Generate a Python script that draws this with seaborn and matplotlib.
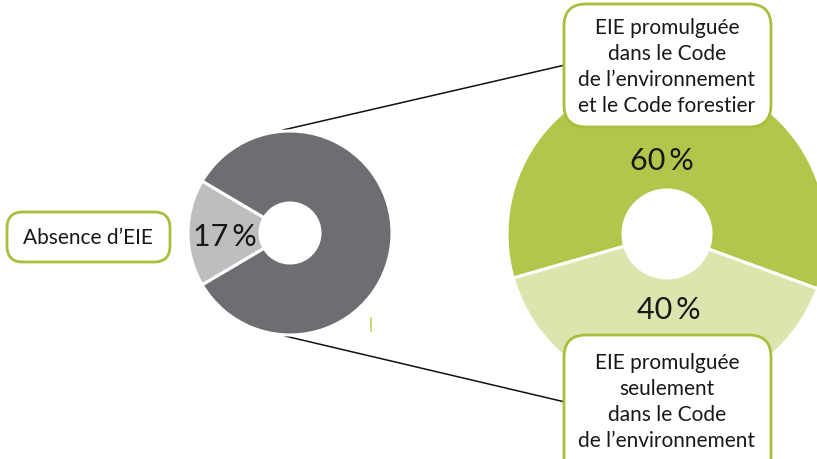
import matplotlib
matplotlib.use("Agg")
import matplotlib.pyplot as plt
from matplotlib.patches import FancyBboxPatch
import seaborn as sns

# ---- data ----
left_categories = ["Absence d\u2019EIE", "EIE promulgu\u00e9e"]
left_values = [17, 83]
right_categories = ["EIE promulgu\u00e9e dans le Code de l\u2019environnement et le Code forestier",
                    "EIE promulgu\u00e9e seulement dans le Code de l\u2019environnement"]
right_values = [60, 40]
label_absence = "Absence d\u2019EIE"
label_top = "EIE promulgu\u00e9e\ndans le Code\nde l\u2019environnement\net le Code forestier"
label_bottom = "EIE promulgu\u00e9e\nseulement\ndans le Code\nde l\u2019environnement"

# ---- style ----
sns.set_theme(style="white")
plt.rcParams["font.family"] = ["Lato", "DejaVu Sans"]

W, H = 817, 460
fig = plt.figure(figsize=(W / 100, H / 100), dpi=100)
ax = fig.add_axes([0, 0, 1, 1])

def Y(y):
    return H - y

TXT = "#1a1718"
GREEN_EDGE = "#a7bf3b"
left_colors = ["#bcbec0", "#6d6e71"]
right_colors = ["#b3c54a", "#dbe5ad"]

# connector lines (behind)
ax.plot([283, 565], [Y(131), Y(66)], color="#111111", lw=1.1, zorder=1)
ax.plot([285, 565], [Y(337), Y(403)], color="#111111", lw=1.1, zorder=1)

# left donut
lc = (290, Y(234)); lR = 102; lr = 30
start_left = 180 - left_values[0] / sum(left_values) * 360 / 2
ax.pie(left_values, colors=left_colors, center=lc, radius=lR,
       startangle=start_left, counterclock=True,
       wedgeprops=dict(width=lR - lr, edgecolor="white", linewidth=2.2),
       frame=True)
# right donut
rc = (667, Y(235)); rR = 160; rr = 44
ax.pie(right_values, colors=right_colors, center=rc, radius=rR,
       startangle=-20, counterclock=True,
       wedgeprops=dict(width=rR - rr, edgecolor="white", linewidth=2.2),
       frame=True)
ax.set_xlim(0, W)
ax.set_ylim(0, H)
ax.set_aspect("equal")
ax.axis("off")

# percentage labels
PCT = dict(ha="center", va="center", fontsize=22, color=TXT, zorder=5)
ax.text(225, Y(237), f"{left_values[0]}\u2009%", **PCT)
ax.text(662, Y(161), f"{right_values[0]}\u2009%", **PCT)
ax.text(669, Y(310), f"{right_values[1]}\u2009%", **PCT)

# label boxes
def box(x0, y0, x1, y1, rs):
    p = FancyBboxPatch((x0, Y(y1)), x1 - x0, y1 - y0,
                       boxstyle=f"round,pad=0,rounding_size={rs}",
                       facecolor="white", edgecolor=GREEN_EDGE, lw=2, zorder=6)
    ax.add_patch(p)

LBL = dict(ha="center", va="center", fontsize=15, color=TXT, zorder=7)
box(7, 213, 170, 263, 16)
ax.text(88, Y(238), label_absence, **LBL)

box(564, 5, 771, 128, 22)
ax.text(667, Y(67), label_top, linespacing=1.38, **LBL)

box(564, 336, 771, 480, 22)
ax.text(667, Y(402), label_bottom, linespacing=1.38, **LBL)

# small tick mark
ax.plot([371, 371], [Y(319), Y(332)], color="#c9d77e", lw=1.5, zorder=2)

fig.savefig("out.png", dpi=100)
